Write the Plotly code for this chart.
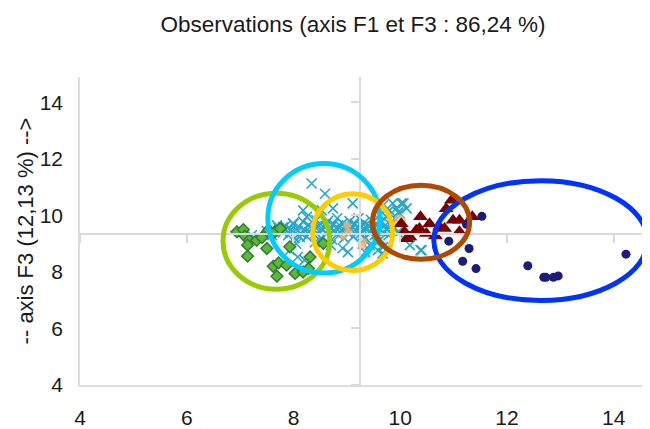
import plotly.graph_objects as go

# ---- data (axis F1, axis F3) ----
cross_x = [8.34, 8.59, 9.11, 8.74, 8.53, 8.18, 8.25, 10.02, 10.12, 9.93, 9.99, 9.86, 9.80, 9.62, 9.74,
           10.40, 10.18, 8.21, 8.08, 8.92, 9.43, 9.67, 9.34, 9.02, 9.58, 7.93, 7.69, 7.80, 7.99, 8.12,
           7.93, 8.31, 8.43, 7.22, 9.68, 10.06, 9.96, 10.38, 9.68,
           7.72, 7.80, 7.85, 7.90, 7.95, 8.00, 8.02, 8.08, 8.10, 8.15, 8.18, 8.20, 8.25, 8.28, 8.30,
           8.35, 8.38, 8.40, 8.45, 8.48, 8.50, 8.52, 8.55, 8.60, 8.62, 8.65, 8.68, 8.70, 8.72, 8.75,
           8.78, 8.80, 8.82, 8.85, 8.88, 8.90, 8.92, 8.95, 8.98, 9.00, 9.02, 9.05, 9.08, 9.10, 9.12,
           9.15, 9.18, 9.20, 9.22, 9.25, 9.28, 9.30, 9.33, 9.35, 9.38, 9.40, 9.42, 9.45, 9.48, 9.50,
           9.52, 9.55, 9.58, 9.60, 9.63, 9.65, 9.68, 9.70, 9.75, 9.78, 9.80, 9.85, 9.88, 9.92, 9.95,
           7.60, 7.50, 8.05, 8.40, 8.70, 9.30, 9.55]
cross_y = [11.13, 10.77, 10.43, 10.25, 10.18, 10.18, 9.95, 10.43, 10.25, 10.25, 10.08, 10.43, 10.18, 10.01, 9.95,
           8.77, 8.95, 8.42, 8.53, 8.84, 8.95, 8.66, 8.70, 8.70, 8.77, 8.77, 9.65, 9.58, 9.72, 9.24,
           9.37, 9.59, 9.83, 9.30, 10.36, 10.43, 10.11, 8.77, 8.88,
           9.55, 9.40, 9.62, 9.30, 9.50, 9.70, 9.20, 9.45, 9.60, 9.35, 9.78, 9.50, 9.25, 9.65, 9.42,
           9.55, 9.85, 9.30, 9.60, 9.45, 9.70, 9.20, 9.50, 9.62, 9.35, 9.80, 9.48, 9.58, 9.15, 9.70,
           9.40, 9.55, 9.90, 9.30, 9.62, 9.48, 9.72, 9.20, 9.55, 9.65, 9.38, 9.80, 9.50, 9.60, 9.25,
           9.70, 9.45, 9.58, 9.90, 9.35, 9.62, 9.50, 9.75, 9.20, 9.55, 9.65, 9.40, 9.85, 9.50, 9.60,
           9.30, 9.72, 9.45, 9.55, 9.15, 9.80, 9.40, 9.62, 9.50, 9.30, 9.70, 9.45, 9.60, 9.85, 9.40,
           9.30, 9.45, 9.00, 9.05, 8.95, 9.00, 9.05]

diamond_x = [6.94, 7.06, 7.09, 7.17, 7.14, 7.31, 7.41, 7.53, 7.65, 7.75, 7.50, 7.14, 7.62, 7.72,
             7.87, 7.69, 8.03, 7.93, 8.31, 8.56, 8.28, 8.18]
diamond_y = [9.42, 9.50, 9.27, 9.12, 8.95, 9.12, 9.22, 9.48, 9.42, 9.54, 8.83, 8.56, 8.20, 8.32,
             8.24, 7.85, 7.95, 8.89, 8.53, 9.01, 8.12, 8.00]

orange_x = [9.99, 9.00, 9.03, 9.31, 9.28, 8.93]
orange_y = [9.83, 9.65, 9.42, 9.06, 8.95, 9.27]
orange_s = [11, 7, 7, 7, 7, 7]

tri_x = [10.02, 10.08, 10.12, 10.18, 10.30, 10.36, 10.38, 10.49, 10.55, 10.74, 10.83, 10.86,
         10.96, 10.99, 11.11, 11.11, 11.35, 10.66]
tri_y = [9.71, 9.42, 9.18, 9.24, 9.48, 9.54, 9.95, 9.36, 9.71, 9.59, 9.54, 10.24,
         10.54, 9.83, 9.83, 9.42, 9.95, 9.27]

dot_x = [11.53, 10.91, 11.29, 11.17, 11.42, 12.39, 12.69, 12.73, 12.87, 12.96, 14.23, 11.24]
dot_y = [9.97, 9.09, 8.83, 8.38, 8.12, 8.22, 7.81, 7.81, 7.81, 7.86, 8.63, 9.69]

# ellipses: centre x, centre y, radius x, radius y, colour
ell_cx = [7.68, 8.57, 9.11, 12.63, 10.39]
ell_cy = [9.09, 9.90, 9.41, 9.11, 9.76]
ell_rx = [1.00, 1.05, 0.75, 2.00, 0.91]
ell_ry = [1.70, 1.94, 1.36, 2.12, 1.31]
ell_col = ["#99CC00", "#00CCFF", "#FFCC00", "#0033FF", "#B04A00"]

x_ticks = [4, 6, 8, 10, 12, 14]
y_ticks = [4, 6, 8, 10, 12, 14]
x_range = [4, 14.83]
y_range = [4, 14.9]
x_origin = 9.25
y_origin = 9.33

FONT = "Liberation Sans, Arial, sans-serif"
CROSS = "#25A6CC"

fig = go.Figure()
fig.add_trace(go.Scatter(x=cross_x, y=cross_y, mode="markers",
                         marker=dict(symbol="x-thin-open", size=10, color=CROSS,
                                     line=dict(color=CROSS, width=1.6)),
                         showlegend=False))
fig.add_trace(go.Scatter(x=diamond_x, y=diamond_y, mode="markers",
                         marker=dict(symbol="diamond", size=9, color="#5DB83A",
                                     line=dict(color="#2E7D32", width=1.5)),
                         showlegend=False))
fig.add_trace(go.Scatter(x=orange_x, y=orange_y, mode="markers",
                         marker=dict(symbol="circle", size=orange_s, color="#F8C08A",
                                     line=dict(color="#F0A050", width=1.2)),
                         showlegend=False))
fig.add_trace(go.Scatter(x=tri_x, y=tri_y, mode="markers",
                         marker=dict(symbol="triangle-up", size=13, color="#7A0000"),
                         showlegend=False))
fig.add_trace(go.Scatter(x=dot_x, y=dot_y, mode="markers",
                         marker=dict(symbol="circle", size=9, color="#1C1C7A"),
                         showlegend=False))
# dummy trace to create the centre-cross axes
fig.add_trace(go.Scatter(x=[None], y=[None], xaxis="x2", yaxis="y2", showlegend=False,
                         hoverinfo="skip"))

for cx, cy, rx, ry, col in zip(ell_cx, ell_cy, ell_rx, ell_ry, ell_col):
    fig.add_shape(type="circle", xref="x", yref="y",
                  x0=cx - rx, x1=cx + rx, y0=cy - ry, y1=cy + ry,
                  line=dict(color=col, width=5), layer="above")

axis_common = dict(showgrid=False, zeroline=False, automargin=False,
                   tickfont=dict(family=FONT, size=21, color="#1a1a1a"))

fig.update_layout(
    width=650, height=429,
    margin=dict(l=72, r=0, t=69, b=52),
    paper_bgcolor="white", plot_bgcolor="white",
    font=dict(family=FONT, color="#1a1a1a"),
    title=dict(text="Observations (axis F1 et F3 : 86,24 %)", x=345 / 650, xref="container",
               xanchor="center", y=1 - 16 / 429, yref="container", yanchor="middle",
               font=dict(family=FONT, size=22.5, color="#1a1a1a")),
    xaxis=dict(range=x_range, tickvals=x_ticks, showline=True, linecolor="#dcdcdc", linewidth=1.5,
               ticks="", ticklabelstandoff=13, **axis_common),
    yaxis=dict(range=y_range, tickvals=y_ticks, showline=True, linecolor="#dcdcdc", linewidth=1.5,
               ticks="", ticklabelstandoff=11,
               title=dict(text="-- axis F3 (12,13 %) -->", font=dict(family=FONT, size=22, color="#1a1a1a"),
                          standoff=0),
               **axis_common),
    xaxis2=dict(overlaying="x", matches="x", anchor="free", automargin=False,
                position=(y_origin - y_range[0]) / (y_range[1] - y_range[0]),
                tickvals=x_ticks, showticklabels=False, ticks="outside", ticklen=8, tickwidth=1.5,
                tickcolor="#d9d9d9", showline=True, linecolor="#d9d9d9", linewidth=2,
                showgrid=False, zeroline=False, side="bottom"),
    yaxis2=dict(overlaying="y", matches="y", anchor="free", automargin=False,
                position=(x_origin - x_range[0]) / (x_range[1] - x_range[0]),
                tickvals=y_ticks, showticklabels=False, ticks="outside", ticklen=8, tickwidth=1.5,
                tickcolor="#d9d9d9", showline=True, linecolor="#d9d9d9", linewidth=2,
                showgrid=False, zeroline=False, side="left"),
)

fig.write_html("out.html")
